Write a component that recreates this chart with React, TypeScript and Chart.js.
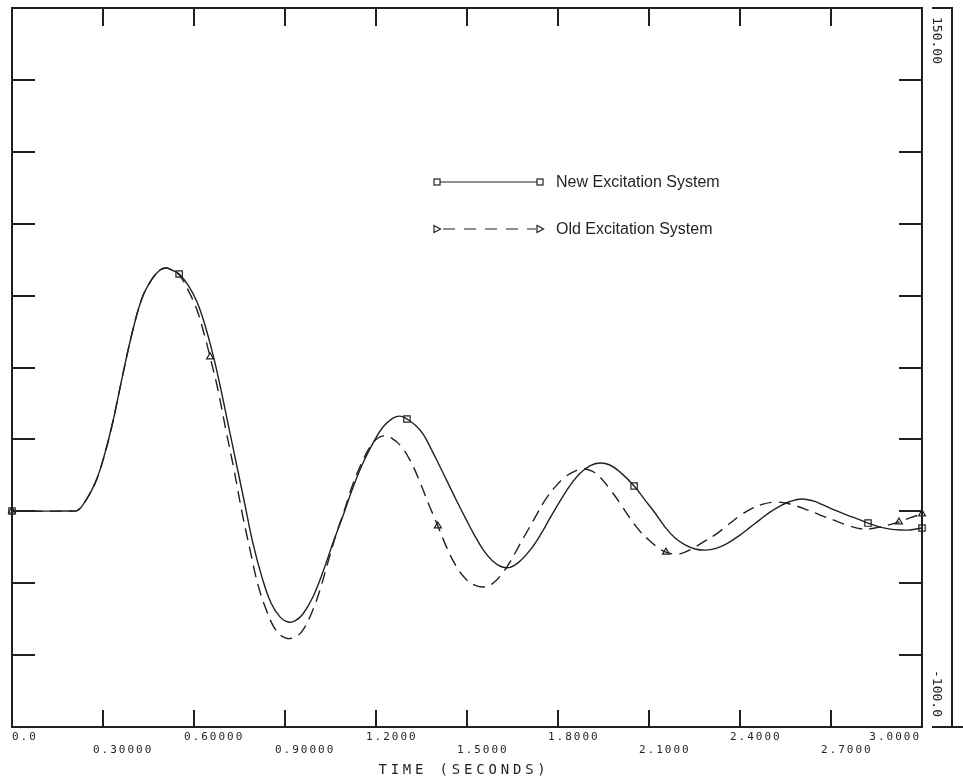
import React, { useEffect, useRef } from 'react';
import { Chart, registerables } from 'chart.js';

Chart.register(...registerables);

const X_MIN = 0;
const X_MAX = 3;
const Y_MIN = -100;
const Y_MAX = 150;

const X_TICKS = [0, 0.3, 0.6, 0.9, 1.2, 1.5, 1.8, 2.1, 2.4, 2.7, 3.0];
const X_TICK_LABELS = ['0.0', '0.30000', '0.60000', '0.90000', '1.2000', '1.5000', '1.8000', '2.1000', '2.4000', '2.7000', '3.0000'];
const Y_TICKS = [-75, -50, -25, 0, 25, 50, 75, 100, 125];
const Y_TOP_LABEL = '150.00';
const Y_BOTTOM_LABEL = '-100.0';
const X_TITLE = 'TIME (SECONDS)';
const SERIES_NAMES = ['New Excitation System', 'Old Excitation System'];

const NEW_T = [0, 0.191, 0.218, 0.244, 0.274, 0.300, 0.330, 0.363, 0.396, 0.429, 0.462, 0.488, 0.508, 0.527, 0.551, 0.580, 0.610, 0.636, 0.663, 0.689, 0.715, 0.742, 0.768, 0.794, 0.824, 0.854, 0.884, 0.910, 0.933, 0.959, 0.992, 1.025, 1.058, 1.091, 1.121, 1.154, 1.190, 1.223, 1.256, 1.279, 1.302, 1.329, 1.355, 1.385, 1.411, 1.441, 1.467, 1.497, 1.523, 1.553, 1.582, 1.612, 1.642, 1.675, 1.708, 1.741, 1.774, 1.807, 1.840, 1.873, 1.905, 1.938, 1.971, 2.004, 2.051, 2.087, 2.120, 2.153, 2.186, 2.219, 2.252, 2.285, 2.318, 2.357, 2.400, 2.433, 2.466, 2.499, 2.532, 2.565, 2.604, 2.641, 2.674, 2.713, 2.753, 2.789, 2.822, 2.862, 2.895, 2.927, 2.960, 3.000];
const NEW_V = [-24.9, -24.9, -24.6, -21.1, -15.2, -7.2, 5.0, 21.4, 37.0, 49.2, 55.8, 58.9, 59.6, 58.9, 57.5, 53.7, 47.8, 39.8, 29.3, 17.2, 4.0, -9.6, -22.8, -36.0, -47.9, -56.9, -61.8, -63.5, -63.1, -60.7, -54.8, -46.1, -36.0, -26.6, -17.6, -8.9, -1.3, 4.3, 7.4, 8.1, 7.1, 5.0, 1.9, -4.0, -9.5, -16.0, -21.6, -27.8, -33.0, -38.3, -42.0, -44.2, -44.5, -42.3, -38.5, -33.4, -27.3, -21.4, -16.0, -11.8, -9.2, -8.2, -8.9, -11.3, -16.2, -21.1, -25.6, -30.5, -34.3, -36.7, -38.1, -38.5, -38.0, -36.2, -33.3, -30.6, -27.9, -25.3, -23.2, -21.6, -20.7, -21.4, -22.8, -24.6, -26.3, -27.7, -29.1, -30.5, -31.2, -31.5, -31.5, -30.8];

const OLD_T = [0, 0.191, 0.218, 0.244, 0.274, 0.300, 0.330, 0.363, 0.396, 0.429, 0.462, 0.488, 0.508, 0.527, 0.551, 0.580, 0.610, 0.636, 0.653, 0.679, 0.705, 0.732, 0.758, 0.785, 0.811, 0.841, 0.870, 0.903, 0.933, 0.959, 0.989, 1.015, 1.042, 1.068, 1.098, 1.124, 1.154, 1.180, 1.207, 1.230, 1.256, 1.282, 1.312, 1.342, 1.372, 1.404, 1.434, 1.464, 1.493, 1.523, 1.553, 1.582, 1.612, 1.642, 1.671, 1.701, 1.731, 1.760, 1.790, 1.823, 1.856, 1.882, 1.912, 1.938, 1.971, 2.004, 2.037, 2.070, 2.103, 2.136, 2.156, 2.189, 2.219, 2.252, 2.285, 2.318, 2.357, 2.400, 2.440, 2.476, 2.515, 2.548, 2.588, 2.624, 2.664, 2.707, 2.753, 2.805, 2.845, 2.888, 2.924, 2.960, 3.000];
const OLD_V = [-24.9, -24.9, -24.6, -21.1, -15.2, -7.2, 5.0, 21.4, 37.0, 49.2, 55.8, 58.9, 59.6, 58.9, 57.2, 52.0, 45.0, 35.6, 28.7, 17.2, 3.3, -10.6, -25.2, -38.5, -50.6, -60.0, -66.3, -69.1, -68.7, -66.3, -60.0, -52.4, -42.6, -33.2, -23.9, -15.5, -7.9, -2.6, 0.5, 1.2, 0.1, -2.3, -7.2, -14.1, -22.1, -30.1, -37.8, -44.0, -48.2, -50.6, -51.3, -50.3, -47.2, -42.6, -37.1, -31.5, -25.9, -20.7, -16.6, -13.1, -11.0, -10.3, -11.0, -13.1, -17.3, -22.1, -27.3, -31.9, -35.3, -38.1, -39.2, -39.9, -39.2, -37.4, -35.3, -33.2, -30.0, -26.5, -24.0, -22.5, -21.8, -22.1, -23.2, -24.6, -26.3, -28.0, -29.8, -31.2, -30.8, -29.8, -28.7, -27.3, -25.9];

const NEW_MARKER_T = [0, 0.551, 1.302, 2.051, 2.822, 3.0];
const OLD_MARKER_T = [0, 0.653, 1.404, 2.156, 2.924, 3.0];

const INK = '#231f20';
const MONO = '"DejaVu Sans Mono", monospace';
const SANS = '"Liberation Sans", Arial, sans-serif';

function toPoints(ts: number[], vs: number[]) {
  return ts.map((t, i) => ({ x: t, y: vs[i] }));
}

const decorPlugin = {
  id: 'decor',
  afterDraw(chart: any) {
    const ctx: CanvasRenderingContext2D = chart.ctx;
    const ca = chart.chartArea;
    const xs = chart.scales.x;
    const ys = chart.scales.y;
    const line = (x1: number, y1: number, x2: number, y2: number) => {
      ctx.beginPath();
      ctx.moveTo(x1, y1);
      ctx.lineTo(x2, y2);
      ctx.stroke();
    };
    ctx.save();
    ctx.strokeStyle = INK;
    ctx.fillStyle = INK;
    ctx.lineWidth = 2;
    ctx.setLineDash([]);
    // frame
    ctx.strokeRect(ca.left, ca.top, ca.right - ca.left, ca.bottom - ca.top);
    // x ticks (inward, top and bottom)
    X_TICKS.forEach((t) => {
      if (t <= X_MIN || t >= X_MAX) return;
      const px = Math.round(xs.getPixelForValue(t));
      line(px, ca.bottom, px, ca.bottom - 17);
      line(px, ca.top, px, ca.top + 18);
    });
    // y ticks (inward, left and right)
    Y_TICKS.forEach((v) => {
      const py = Math.round(ys.getPixelForValue(v));
      line(ca.left, py, ca.left + 23, py);
      line(ca.right, py, ca.right - 23, py);
    });
    // separate right axis
    const ax = ca.right + 30;
    line(ax, ca.top - 1, ax, ca.bottom);
    line(ca.right + 10, ca.top, ax + 1, ca.top);
    line(ca.right + 10, ca.bottom, chart.width, ca.bottom);

    // x tick labels, alternating rows
    ctx.font = '11px ' + MONO;
    (ctx as any).letterSpacing = '2px';
    ctx.textBaseline = 'alphabetic';
    X_TICKS.forEach((t, i) => {
      const px = xs.getPixelForValue(t);
      const row = i % 2 === 0 ? ca.bottom + 13 : ca.bottom + 26;
      const label = X_TICK_LABELS[i];
      if (i === 0) {
        ctx.textAlign = 'left';
        ctx.fillText(label, px, row);
      } else if (i === X_TICKS.length - 1) {
        ctx.textAlign = 'right';
        ctx.fillText(label, px - 1, row);
      } else {
        ctx.textAlign = 'left';
        ctx.fillText(label, px - 10, row);
      }
    });

    // x axis title
    ctx.font = '14px ' + MONO;
    (ctx as any).letterSpacing = '3.8px';
    ctx.textAlign = 'center';
    ctx.fillText(X_TITLE, (ca.left + ca.right) / 2 - 3, ca.bottom + 47);

    // right axis end labels (rotated)
    ctx.font = '13px ' + MONO;
    (ctx as any).letterSpacing = '0px';
    ctx.save();
    ctx.translate(ca.right + 11, ys.getPixelForValue(Y_MAX) + 9);
    ctx.rotate(Math.PI / 2);
    ctx.textAlign = 'left';
    ctx.fillText(Y_TOP_LABEL, 0, 0);
    ctx.restore();
    ctx.save();
    ctx.translate(ca.right + 11, ys.getPixelForValue(Y_MIN) - 10);
    ctx.rotate(Math.PI / 2);
    ctx.textAlign = 'right';
    ctx.fillText(Y_BOTTOM_LABEL, 0, 0);
    ctx.restore();

    // legend
    const lx0 = ca.left + 425;
    const lx1 = ca.left + 528;
    const tx = ca.left + 544;
    const rows = [ca.top + 174, ca.top + 221];
    ctx.lineWidth = 1.2;
    // row 1: solid with squares
    ctx.setLineDash([]);
    line(lx0, rows[0], lx1, rows[0]);
    ctx.fillStyle = '#ffffff';
    [lx0, lx1].forEach((x) => {
      ctx.fillRect(x - 3, rows[0] - 3, 6, 6);
      ctx.strokeRect(x - 3, rows[0] - 3, 6, 6);
    });
    // row 2: dashed with right-pointing triangles
    ctx.setLineDash([12, 9]);
    line(lx0 + 6, rows[1], lx1 - 4, rows[1]);
    ctx.setLineDash([]);
    [lx0, lx1].forEach((x) => {
      ctx.beginPath();
      ctx.moveTo(x - 3, rows[1] - 3.5);
      ctx.lineTo(x + 3.5, rows[1]);
      ctx.lineTo(x - 3, rows[1] + 3.5);
      ctx.closePath();
      ctx.fill();
      ctx.stroke();
    });
    ctx.fillStyle = INK;
    ctx.font = '16px ' + SANS;
    ctx.textAlign = 'left';
    ctx.textBaseline = 'middle';
    ctx.fillText(SERIES_NAMES[0], tx, rows[0] + 1);
    ctx.fillText(SERIES_NAMES[1], tx, rows[1] + 1);
    ctx.restore();
  },
};

export default function App() {
  const ref = useRef<HTMLCanvasElement | null>(null);
  useEffect(() => {
    if (!ref.current) return;
    const markerRadius = (list: number[], r: number) => (c: any) =>
      c.raw && list.includes(c.raw.x) ? r : 0;
    const chart = new Chart(ref.current, {
      type: 'line',
      data: {
        datasets: [
          {
            label: SERIES_NAMES[0],
            data: toPoints(NEW_T, NEW_V),
            borderColor: INK,
            borderWidth: 1.4,
            tension: 0.4,
            pointStyle: 'rect',
            pointRadius: markerRadius(NEW_MARKER_T, 4.5),
            pointBorderColor: INK,
            pointBorderWidth: 1.2,
            pointBackgroundColor: 'rgba(255,255,255,0)',
            clip: 10,
          } as any,
          {
            label: SERIES_NAMES[1],
            data: toPoints(OLD_T, OLD_V),
            borderColor: INK,
            borderWidth: 1.4,
            borderDash: [12, 7],
            tension: 0.4,
            pointStyle: 'triangle',
            pointRadius: markerRadius(OLD_MARKER_T, 4),
            pointBorderColor: INK,
            pointBorderWidth: 1.2,
            pointBackgroundColor: 'rgba(255,255,255,0)',
            clip: 10,
          } as any,
        ],
      },
      options: {
        responsive: false,
        animation: false,
        events: [],
        layout: { padding: { left: 12, top: 8, right: 41, bottom: 53 } },
        scales: {
          x: { type: 'linear', min: X_MIN, max: X_MAX, display: false },
          y: { type: 'linear', min: Y_MIN, max: Y_MAX, display: false },
        },
        plugins: {
          legend: { display: false },
          tooltip: { enabled: false },
        },
      },
      plugins: [decorPlugin],
    });
    return () => chart.destroy();
  }, []);
  return (
    <div style={{ position: 'fixed', left: 0, top: 0, width: 963, height: 780, background: '#ffffff' }}>
      <canvas ref={ref} width={963} height={780} style={{ display: 'block', width: 963, height: 780 }} />
    </div>
  );
}
